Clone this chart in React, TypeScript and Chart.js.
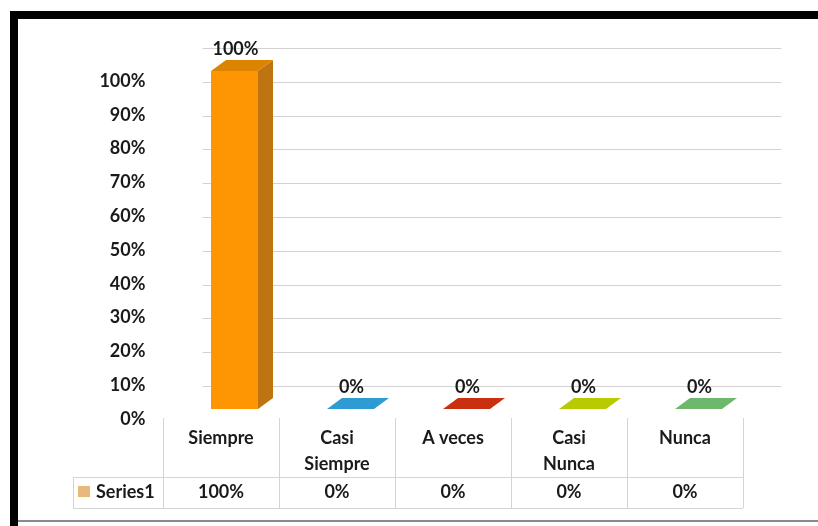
import React, { useEffect, useRef } from 'react';
import { Chart, registerables } from 'chart.js';

Chart.register(...registerables);

const categories: string[][] = [['Siempre'], ['Casi', 'Siempre'], ['A veces'], ['Casi', 'Nunca'], ['Nunca']];
const seriesName = 'Series1';
const values = [100, 0, 0, 0, 0];
const valueLabels = ['100%', '0%', '0%', '0%', '0%'];
const frontColors = ['#FD9602', '#2E9BD2', '#C8300F', '#B8CB00', '#6DB86D'];
const topColors = ['#DC8400', '#2E9BD2', '#C8300F', '#B8CB00', '#6DB86D'];
const sideColors = ['#BE7410', '#2580B0', '#A0260B', '#96A600', '#579857'];
const legendSwatch = '#E8B97F';

const FONT = 'Lato, "Open Sans", sans-serif';
const FSIZE = 18;
const TEXT = '#1a1a1a';
const DX = 15;
const DY = -11;

const deco = {
  id: 'deco3d',
  beforeDraw(chart: any) {
    const ctx = chart.ctx;
    ctx.save();
    ctx.fillStyle = '#ffffff';
    ctx.fillRect(0, 0, chart.width, chart.height);
    ctx.fillStyle = '#000000';
    ctx.fillRect(10, 11, chart.width - 10, 8);
    ctx.fillRect(10, 11, 8, chart.height - 11);
    ctx.fillStyle = '#8a8a8a';
    ctx.fillRect(18, 520, chart.width - 18, 2);
    ctx.restore();
  },
  beforeDatasetsDraw(chart: any) {
    const ctx = chart.ctx;
    const y = chart.scales.y;
    const area = chart.chartArea;
    ctx.save();
    ctx.strokeStyle = '#d2d2d2';
    ctx.lineWidth = 1;
    y.ticks.forEach((t: any) => {
      const py = Math.round(y.getPixelForValue(t.value) - 23) + 0.5;
      ctx.beginPath();
      ctx.moveTo(area.left + 26, py);
      ctx.lineTo(area.right + 25, py);
      ctx.stroke();
    });
    ctx.restore();
  },
  afterDatasetsDraw(chart: any) {
    const ctx = chart.ctx;
    const meta = chart.getDatasetMeta(0);
    ctx.save();
    meta.data.forEach((bar: any, i: number) => {
      const { x, y, base, width } = bar.getProps(['x', 'y', 'base', 'width'], true);
      const l = x - width / 2;
      const r = x + width / 2;
      if (base - y > 0.5) {
        ctx.fillStyle = sideColors[i];
        ctx.beginPath();
        ctx.moveTo(r, y);
        ctx.lineTo(r + DX, y + DY);
        ctx.lineTo(r + DX, base + DY);
        ctx.lineTo(r, base);
        ctx.closePath();
        ctx.fill();
      }
      ctx.fillStyle = topColors[i];
      ctx.beginPath();
      ctx.moveTo(l, y);
      ctx.lineTo(l + DX, y + DY);
      ctx.lineTo(r + DX, y + DY);
      ctx.lineTo(r, y);
      ctx.closePath();
      ctx.fill();
      ctx.fillStyle = TEXT;
      ctx.font = `bold ${FSIZE}px ${FONT}`;
      ctx.textAlign = 'center';
      ctx.textBaseline = 'middle';
      ctx.fillText(valueLabels[i], x + 1, y - 22);
    });
    ctx.restore();
  },
  afterDraw(chart: any) {
    const ctx = chart.ctx;
    const xs = chart.scales.x;
    const area = chart.chartArea;
    const b = area.bottom;
    const shift = -13.5;
    const half = (xs.getPixelForValue(1) - xs.getPixelForValue(0)) / 2;
    const top = b + 9;
    const mid = b + 68;
    const bot = b + 99;
    const lastRight = xs.getPixelForValue(categories.length - 1) + shift + half;
    const headLeft = 73;
    ctx.save();
    ctx.strokeStyle = '#d4d4d4';
    ctx.lineWidth = 1;
    ctx.beginPath();
    for (let i = 0; i <= categories.length; i++) {
      const px = Math.round(xs.getPixelForValue(0) + shift - half + i * 2 * half) + 0.5;
      ctx.moveTo(px, top);
      ctx.lineTo(px, bot);
    }
    ctx.moveTo(headLeft + 0.5, mid);
    ctx.lineTo(headLeft + 0.5, bot);
    ctx.moveTo(headLeft, mid + 0.5);
    ctx.lineTo(lastRight, mid + 0.5);
    ctx.moveTo(headLeft, bot + 0.5);
    ctx.lineTo(lastRight, bot + 0.5);
    ctx.stroke();

    ctx.fillStyle = TEXT;
    ctx.font = `bold ${FSIZE}px ${FONT}`;
    ctx.textAlign = 'center';
    ctx.textBaseline = 'middle';
    categories.forEach((lines, i) => {
      const cx = xs.getPixelForValue(i) + shift;
      lines.forEach((ln, k) => ctx.fillText(ln, cx, b + 29 + k * 26));
      ctx.fillText(valueLabels[i], cx, b + 83);
    });
    ctx.fillStyle = legendSwatch;
    ctx.fillRect(78, b + 77, 12, 11);
    ctx.fillStyle = TEXT;
    ctx.textAlign = 'left';
    ctx.fillText(seriesName, 96, b + 83);
    ctx.restore();
  },
};

export default function App() {
  const ref = useRef<HTMLCanvasElement | null>(null);
  useEffect(() => {
    if (!ref.current) return;
    const chart = new Chart(ref.current, {
      type: 'bar',
      data: {
        labels: categories.map((c) => c.join(' ')),
        datasets: [
          {
            label: seriesName,
            data: values,
            backgroundColor: frontColors,
            borderWidth: 0,
            categoryPercentage: 1,
            barPercentage: 0.405,
          },
        ],
      },
      options: {
        animation: false,
        responsive: false,
        devicePixelRatio: 1,
        layout: { padding: { left: 0, top: 71, right: 61.5, bottom: 117 } },
        plugins: { legend: { display: false }, tooltip: { enabled: false } },
        scales: {
          x: { type: 'category', display: false },
          y: {
            min: 0,
            max: 100,
            ticks: {
              stepSize: 10,
              callback: (v: any) => `${v}%`,
              font: { family: FONT, size: FSIZE, weight: 'bold' },
              color: TEXT,
              padding: 31,
              labelOffset: 10,
            },
            grid: { display: false, drawTicks: false },
            border: { display: false },
            afterFit: (s: any) => {
              s.width = 176.5;
            },
          },
        },
      },
      plugins: [deco],
    });
    return () => chart.destroy();
  }, []);
  return (
    <div style={{ position: 'absolute', left: 0, top: 0, width: 818, height: 526 }}>
      <canvas ref={ref} width={818} height={526} style={{ display: 'block' }} />
    </div>
  );
}
